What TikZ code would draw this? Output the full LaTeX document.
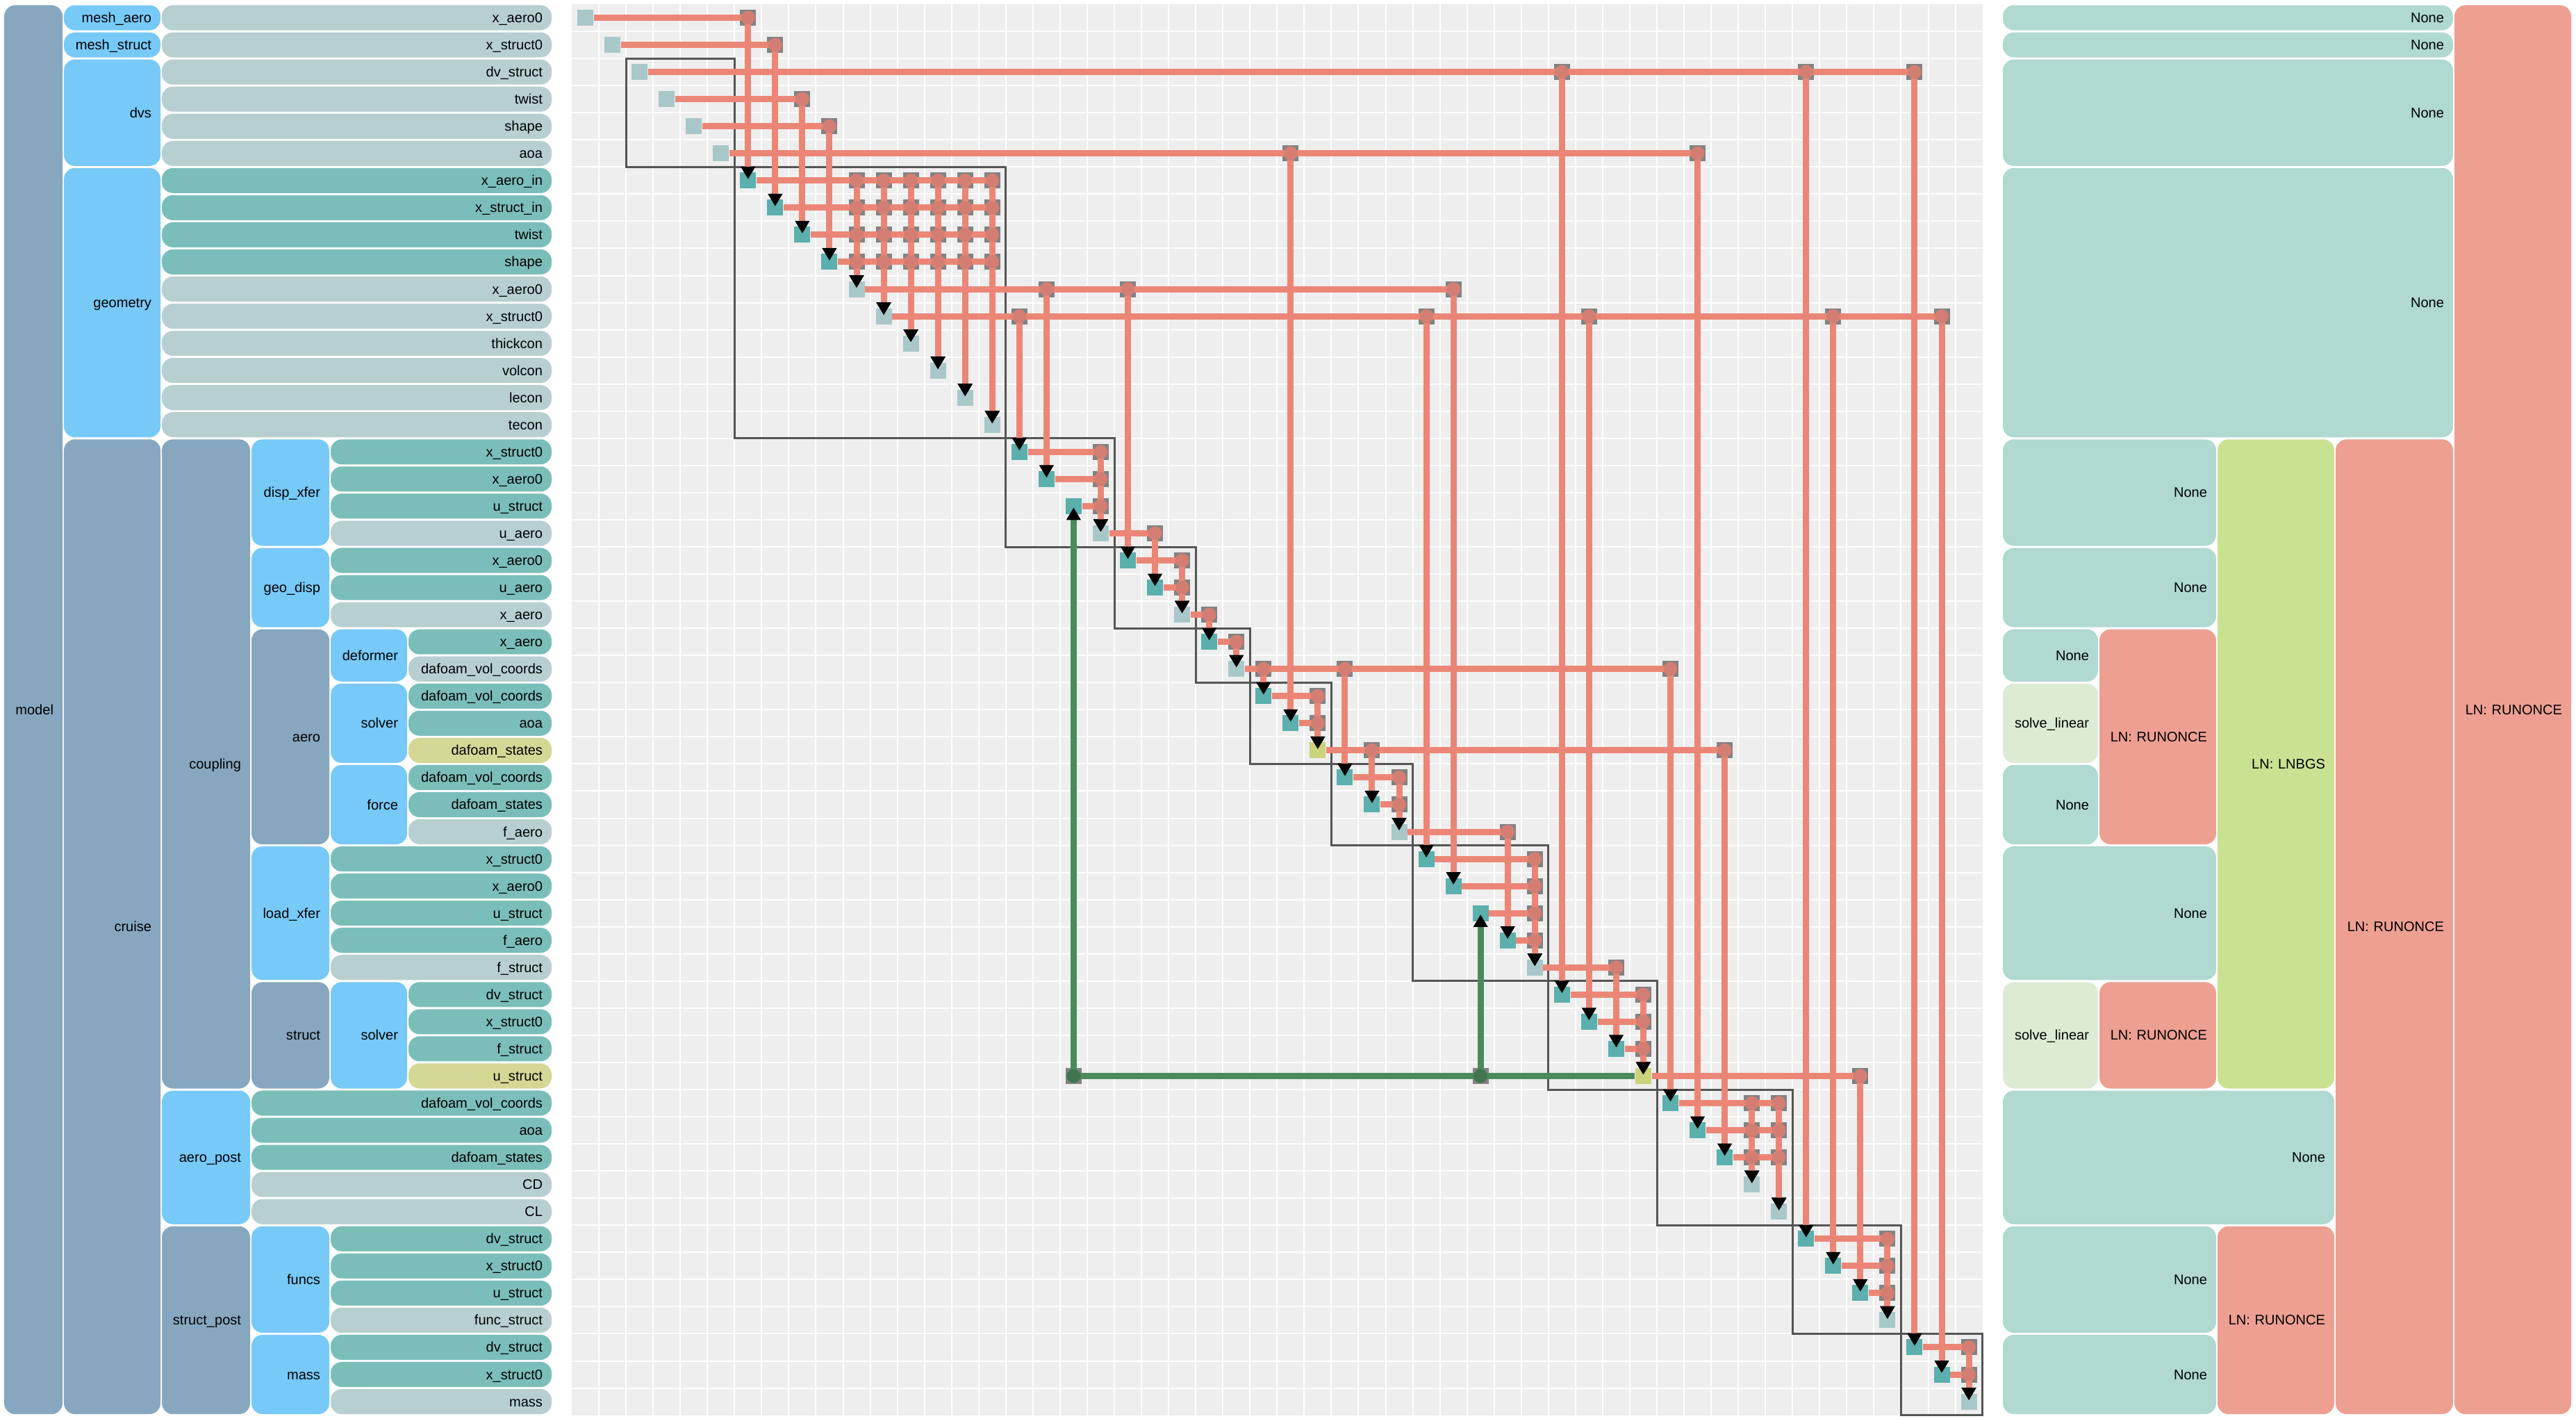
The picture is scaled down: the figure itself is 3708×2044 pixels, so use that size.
\documentclass[tikz,border=0pt]{standalone}
\usepackage{fontspec}
\setmainfont{Liberation Sans}
\usetikzlibrary{arrows.meta}
\definecolor{grpblue}{HTML}{87A7C0}
\definecolor{compblue}{HTML}{77C9F8}
\definecolor{varo}{HTML}{B8CFD1}
\definecolor{vari}{HTML}{7BBEB9}
\definecolor{vars}{HTML}{D4D895}
\definecolor{solnone}{HTML}{AFD9D1}
\definecolor{sollin}{HTML}{DCECD4}
\definecolor{solrun}{HTML}{ED9F92}
\definecolor{solbgs}{HTML}{C9E292}
\definecolor{mtxbg}{HTML}{EEEEEE}
\definecolor{cello}{HTML}{A8C7C9}
\definecolor{celli}{HTML}{5BAFAC}
\definecolor{cells}{HTML}{CAD27A}
\definecolor{cellgray}{HTML}{828282}
\definecolor{linkred}{HTML}{EB8676}
\definecolor{dotred}{HTML}{D47E73}
\definecolor{fbgreen}{HTML}{4C8A5C}
\definecolor{blkgray}{HTML}{555555}
\tikzset{
  box/.style={rounded corners=0.16cm,inner sep=0pt,align=right,text height=0.15cm,text depth=0.01cm},
  mcell/.style={inner sep=0pt,minimum size=0.23cm},
  link/.style={linkred,line width=0.09cm,shorten >=0.02cm,-{Triangle[length=0.18cm,width=0.2cm,black]}},
  fback/.style={link,fbgreen},
  blk/.style={blkgray,line width=0.03cm},
}
% connections: source row / target column
\def\nlinks{1/7,2/8,3/37,3/46,3/50,4/9,5/10,6/27,6/42,%
7/11,7/12,7/13,7/14,7/15,7/16,8/11,8/12,8/13,8/14,8/15,8/16,%
9/11,9/12,9/13,9/14,9/15,9/16,10/11,10/12,10/13,10/14,10/15,10/16,%
11/18,11/21,11/33,12/17,12/32,12/38,12/47,12/51,%
17/20,18/20,19/20,20/22,21/23,22/23,23/24,24/25,25/26,25/29,25/41,%
26/28,27/28,28/30,28/43,29/31,30/31,31/35,%
32/36,33/36,34/36,35/36,36/39,37/40,38/40,39/40,40/48,%
41/44,41/45,42/44,42/45,43/44,43/45,46/49,47/49,48/49,50/52,51/52}
\def\fblinks{40/19,40/34}
\begin{document}
\begin{tikzpicture}[x=0.01cm,y=-0.01cm,font=\fontsize{5.7}{6.8}\selectfont]
\fill[white] (0,0) rectangle (3708,2044);
\useasboundingbox (0,0) rectangle (3708,2044);
% model tree (left) and solver tree (right)
\foreach \xa/\xb/\ra/\rb/\col/\nm/\txt in {5/91/1/52/grpblue/model/model,%
91/232/1/1/compblue/meshaero/mesh\_aero,91/232/2/2/compblue/meshstruct/mesh\_struct,%
91/232/3/6/compblue/dvs/dvs,91/232/7/16/compblue/geometry/geometry,91/232/17/52/grpblue/cruise/cruise,%
232/361/17/40/grpblue/coupling/coupling,232/361/41/45/compblue/aeropost/aero\_post,232/361/46/52/grpblue/structpost/struct\_post,%
361/475/17/20/compblue/dispxfer/disp\_xfer,361/475/21/23/compblue/geodisp/geo\_disp,361/475/24/31/grpblue/aero/aero,%
361/475/32/36/compblue/loadxfer/load\_xfer,361/475/37/40/grpblue/struct/struct,%
361/475/46/49/compblue/funcs/funcs,361/475/50/52/compblue/mass/mass,%
475/587/24/25/compblue/deformer/deformer,475/587/26/28/compblue/aerosolver/solver,%
475/587/29/31/compblue/force/force,475/587/37/40/compblue/structsolver/solver,%
2882/3532/1/1/solnone/s1/None,2882/3532/2/2/solnone/s2/None,2882/3532/3/6/solnone/s3/None,%
2882/3532/7/16/solnone/s4/None,2882/3191/17/20/solnone/s5/None,2882/3191/21/23/solnone/s6/None,%
2882/3021/24/25/solnone/s7/None,2882/3021/26/28/sollin/s8/solve\_linear,2882/3021/29/31/solnone/s9/None,%
3021/3191/24/31/solrun/s10/LN: RUNONCE,2882/3191/32/36/solnone/s11/None,%
2882/3021/37/40/sollin/s12/solve\_linear,3021/3191/37/40/solrun/s13/LN: RUNONCE,%
3191/3361/17/40/solbgs/s14/LN: LNBGS,2882/3361/41/45/solnone/s15/None,%
2882/3191/46/49/solnone/s16/None,2882/3191/50/52/solnone/s17/None,3191/3361/46/52/solrun/s18/LN: RUNONCE,%
3361/3532/17/52/solrun/s19/LN: RUNONCE,3532/3702/1/52/solrun/s20/LN: RUNONCE}{
  \pgfmathsetmacro\bw{(\xb-\xa-2)*0.01}
  \pgfmathsetmacro\bh{((\rb-\ra+1)*39.05-3)*0.01}
  \pgfmathsetmacro\btw{(\xb-\xa-28)*0.01}
  \node[box,fill=\col,minimum width=\bw cm,minimum height=\bh cm,text width=\btw cm] (\nm) at ({(\xa+\xb)/2},{6+(\ra+\rb-1)*39.05/2}) {\mbox{\txt}};
}
% matrix background
\fill[mtxbg] (823,6) rectangle (2854,2037);
\foreach \k in {1,...,51} {
  \draw[white,line width=0.02cm] ({823+\k*39.05},6) -- ++(0,2031);
  \draw[white,line width=0.02cm] (823,{6+\k*39.05}) -- ++(2031,0);
}
\foreach \a/\b in {3/6,7/16,17/20,21/23,24/25,26/28,29/31,32/36,37/40,41/45,46/49,50/52}
  \draw[blk] ({823+(\a-1)*39.05},{6+(\a-1)*39.05}) rectangle ({823+\b*39.05},{6+\b*39.05});
% variables and diagonal
\foreach \i/\xa/\ty/\txt in {1/232/o/x\_aero0,2/232/o/x\_struct0,3/232/o/dv\_struct,4/232/o/twist,5/232/o/shape,6/232/o/aoa,%
7/232/i/x\_aero\_in,8/232/i/x\_struct\_in,9/232/i/twist,10/232/i/shape,%
11/232/o/x\_aero0,12/232/o/x\_struct0,13/232/o/thickcon,14/232/o/volcon,15/232/o/lecon,16/232/o/tecon,%
17/475/i/x\_struct0,18/475/i/x\_aero0,19/475/i/u\_struct,20/475/o/u\_aero,%
21/475/i/x\_aero0,22/475/i/u\_aero,23/475/o/x\_aero,%
24/587/i/x\_aero,25/587/o/dafoam\_vol\_coords,%
26/587/i/dafoam\_vol\_coords,27/587/i/aoa,28/587/s/dafoam\_states,%
29/587/i/dafoam\_vol\_coords,30/587/i/dafoam\_states,31/587/o/f\_aero,%
32/475/i/x\_struct0,33/475/i/x\_aero0,34/475/i/u\_struct,35/475/i/f\_aero,36/475/o/f\_struct,%
37/587/i/dv\_struct,38/587/i/x\_struct0,39/587/i/f\_struct,40/587/s/u\_struct,%
41/361/i/dafoam\_vol\_coords,42/361/i/aoa,43/361/i/dafoam\_states,44/361/o/CD,45/361/o/CL,%
46/475/i/dv\_struct,47/475/i/x\_struct0,48/475/i/u\_struct,49/475/o/func\_struct,%
50/475/i/dv\_struct,51/475/i/x\_struct0,52/475/o/mass}{
  \pgfmathsetmacro\bw{(795-\xa-2)*0.01}
  \pgfmathsetmacro\btw{(795-\xa-28)*0.01}
  \node[box,fill=var\ty,minimum width=\bw cm,minimum height=0.3605cm,text width=\btw cm] (v\i) at ({(\xa+795)/2},{25.5+(\i-1)*39.05}) {\mbox{\txt}};
  \node[mcell,fill=cell\ty] (d\i) at ({842.5+(\i-1)*39.05},{25.5+(\i-1)*39.05}) {};
}
% off-diagonal cells
\foreach \i/\j in \nlinks \node[mcell,fill=cellgray] (c\i-\j) at (d\i -| d\j) {};
\foreach \i/\j in \fblinks \node[mcell,fill=cellgray] (c\i-\j) at (d\i -| d\j) {};
\foreach \i/\j in \nlinks \draw[link] (d\i) -- (c\i-\j.center) -- (d\j.center);
\foreach \i/\j in \fblinks \draw[fback] (d\i) -- (c\i-\j.center) -- (d\j.center);
\foreach \i/\j in \nlinks \fill[dotred] (c\i-\j) circle[radius=0.1cm];
\foreach \i/\j in \fblinks \fill[fbgreen!85!black] (c\i-\j) circle[radius=0.1cm];
\end{tikzpicture}
\end{document}
